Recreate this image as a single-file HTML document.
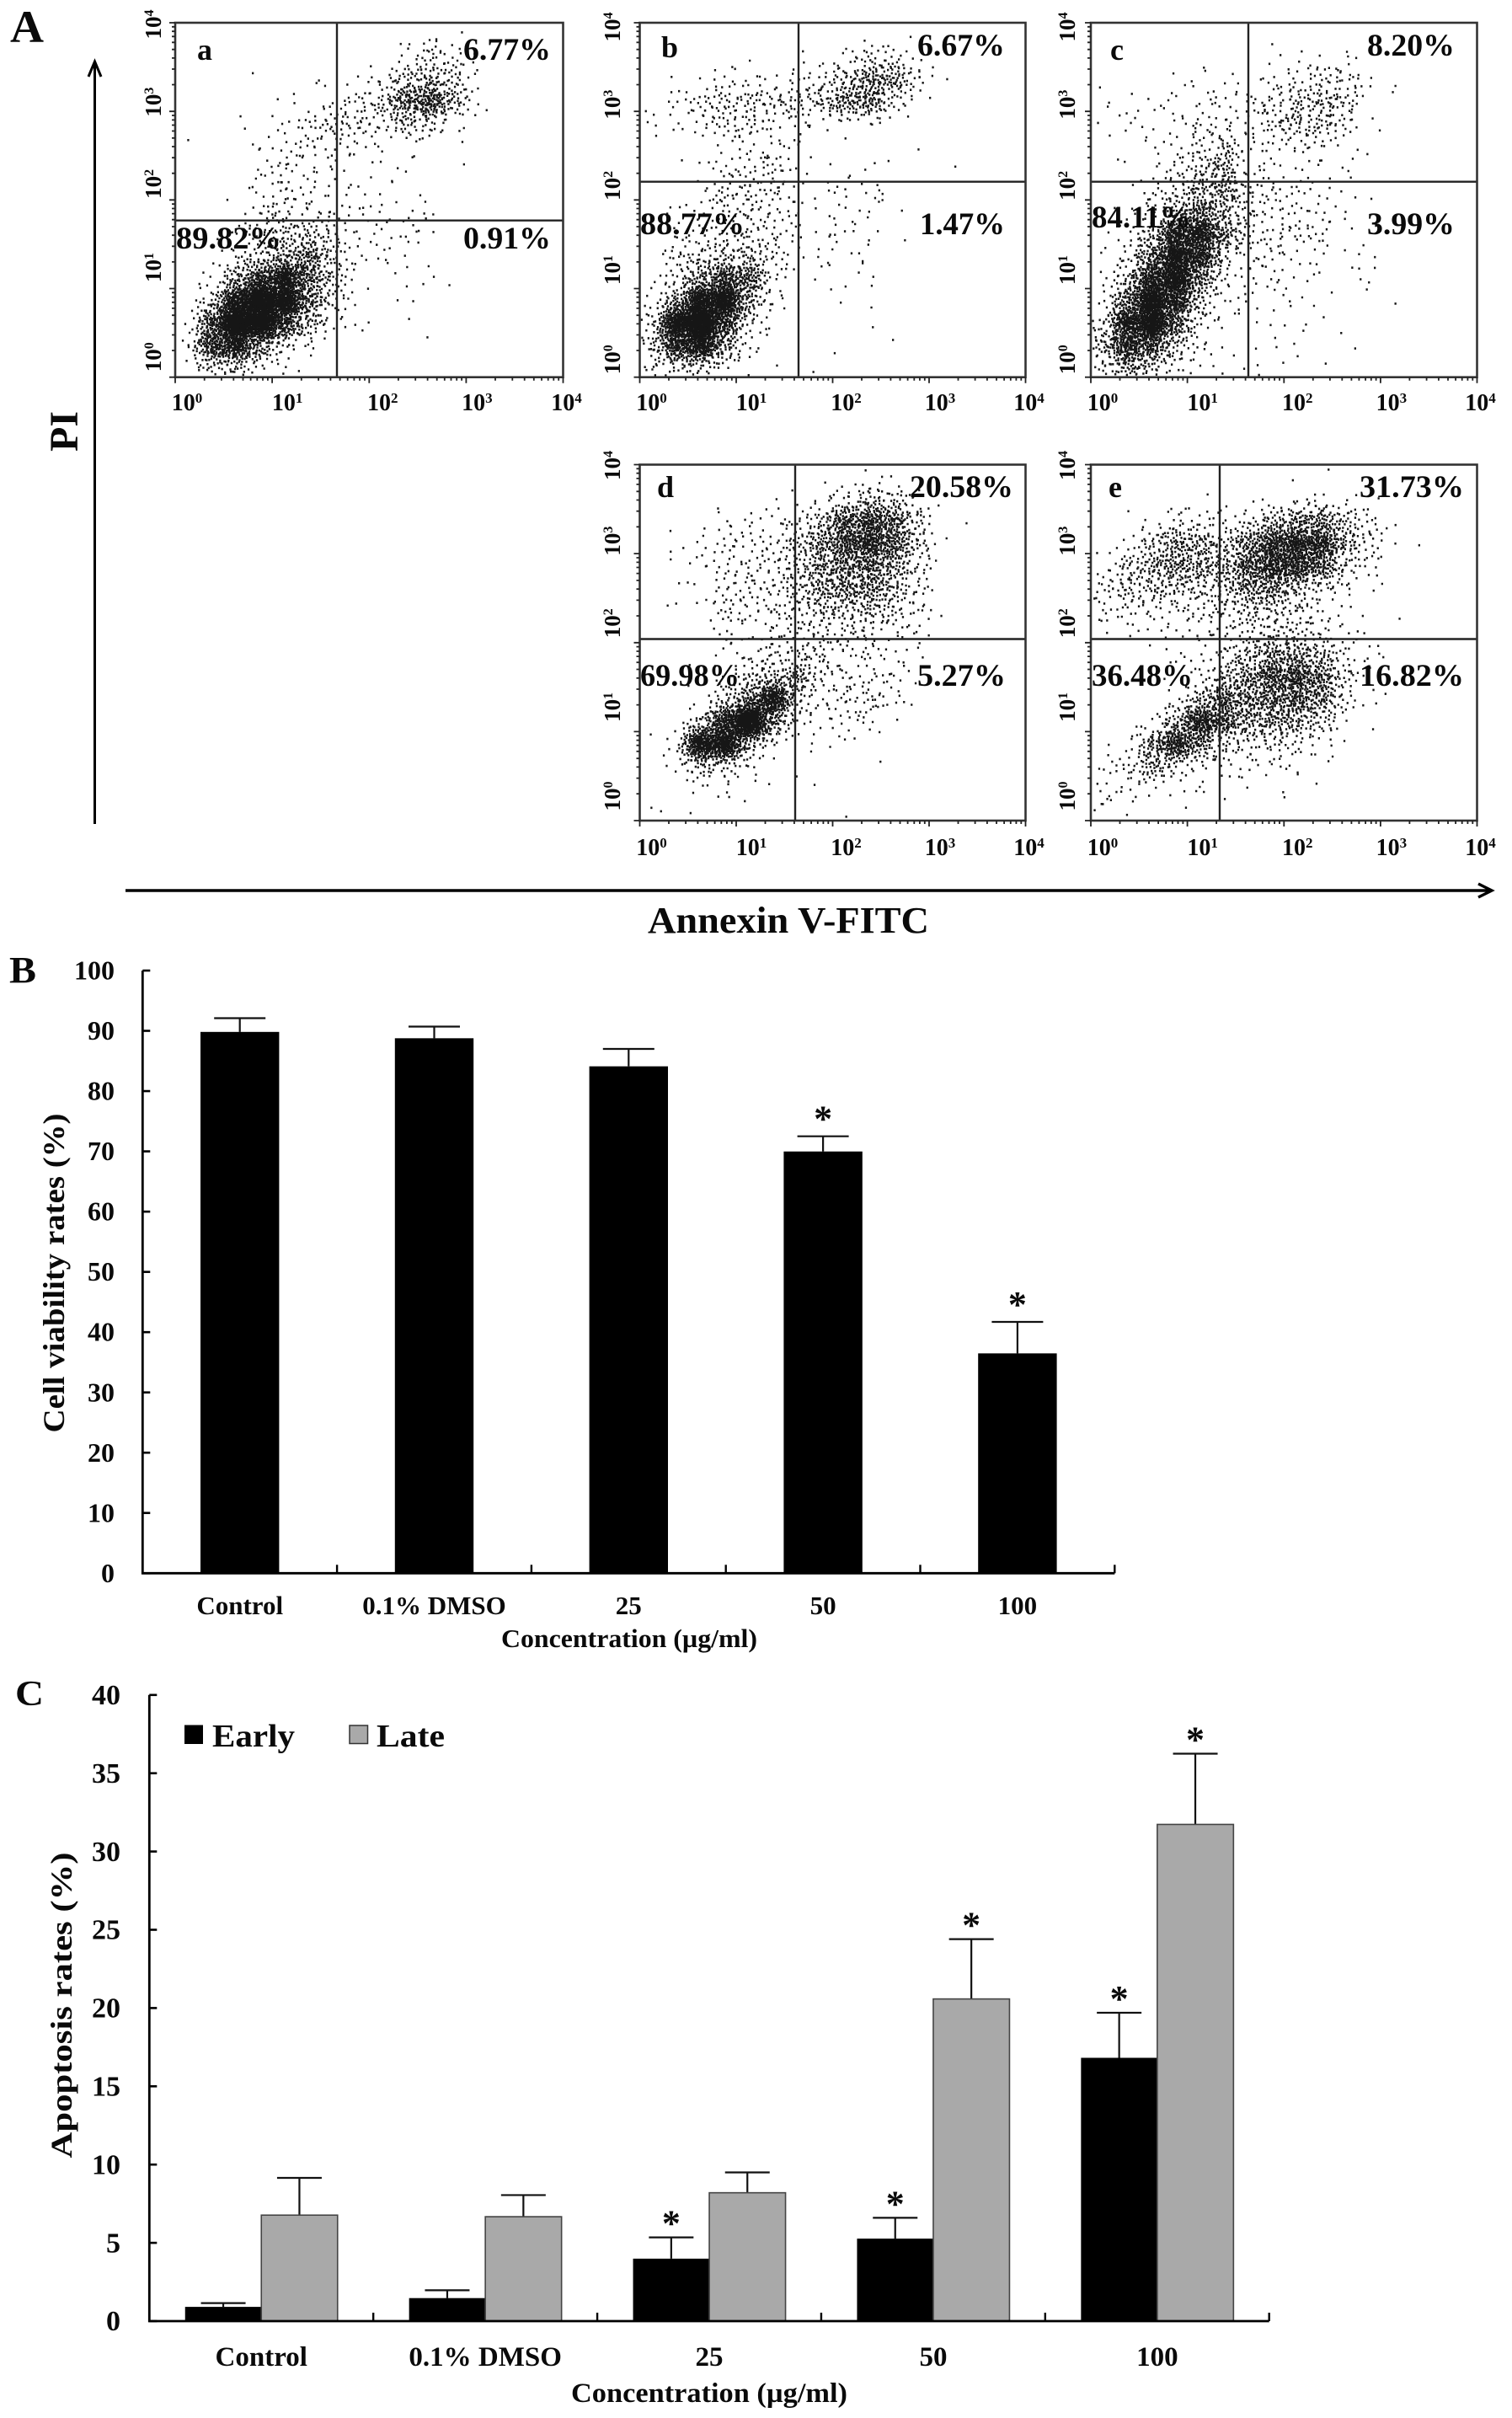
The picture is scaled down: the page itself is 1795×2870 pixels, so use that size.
<!DOCTYPE html>
<html lang="en">
<head>
<meta charset="utf-8">
<title>Flow cytometry apoptosis figure</title>
<style>
html,body{margin:0;padding:0;background:#fff;}
svg{display:block;font-family:"Liberation Serif",serif;font-weight:bold;fill:#000;}
text{fill:#0a0a0a;}
</style>
</head>
<body>
<svg id="figure" xmlns="http://www.w3.org/2000/svg" width="1795" height="2870" viewBox="0 0 1795 2870">
<rect x="0" y="0" width="1795" height="2870" fill="#fff"/>
<g id="scatter-layer"></g>
<g id="bars-b"></g>
<g id="bars-c"></g>

<g>
<text x="12" y="50" font-size="54" textLength="40" lengthAdjust="spacingAndGlyphs">A</text>
<text x="11" y="1166" font-size="44" textLength="32" lengthAdjust="spacingAndGlyphs">B</text>
<text x="18" y="2024" font-size="42" textLength="34" lengthAdjust="spacingAndGlyphs">C</text>

<path d="M112.5 978V74M105 91L112.5 73L120 91" fill="none" stroke="#000" stroke-width="3"/>
<text x="92" y="512" font-size="48" text-anchor="middle" transform="rotate(-90 92 512)">PI</text>
<path d="M149 1057H1769M1755 1049L1771 1057L1755 1065" fill="none" stroke="#000" stroke-width="3.4"/>
<text x="769" y="1107" font-size="44" textLength="334" lengthAdjust="spacingAndGlyphs">Annexin V-FITC</text>

<g font-size="37">
<text x="234" y="71" font-size="36">a</text>
<text x="550" y="71" textLength="104" lengthAdjust="spacingAndGlyphs">6.77%</text>
<text x="209" y="295" textLength="125" lengthAdjust="spacingAndGlyphs">89.82%</text>
<text x="550" y="295" textLength="104" lengthAdjust="spacingAndGlyphs">0.91%</text>
</g>
<g font-size="37">
<text x="785" y="68" font-size="36">b</text>
<text x="1089" y="66" textLength="104" lengthAdjust="spacingAndGlyphs">6.67%</text>
<text x="760" y="278" textLength="124" lengthAdjust="spacingAndGlyphs">88.77%</text>
<text x="1092" y="278" textLength="101" lengthAdjust="spacingAndGlyphs">1.47%</text>
</g>
<g font-size="37">
<text x="1318" y="71" font-size="36">c</text>
<text x="1623" y="66" textLength="104" lengthAdjust="spacingAndGlyphs">8.20%</text>
<text x="1296" y="270" textLength="118" lengthAdjust="spacingAndGlyphs">84.11%</text>
<text x="1623" y="278" textLength="104" lengthAdjust="spacingAndGlyphs">3.99%</text>
</g>
<g font-size="37">
<text x="780" y="590" font-size="36">d</text>
<text x="1080" y="590" textLength="123" lengthAdjust="spacingAndGlyphs">20.58%</text>
<text x="760" y="814" textLength="118" lengthAdjust="spacingAndGlyphs">69.98%</text>
<text x="1089" y="814" textLength="105" lengthAdjust="spacingAndGlyphs">5.27%</text>
</g>
<g font-size="37">
<text x="1316" y="590" font-size="36">e</text>
<text x="1614" y="590" textLength="124" lengthAdjust="spacingAndGlyphs">31.73%</text>
<text x="1296" y="814" textLength="120" lengthAdjust="spacingAndGlyphs">36.48%</text>
<text x="1614" y="814" textLength="124" lengthAdjust="spacingAndGlyphs">16.82%</text>
</g>

<text x="76" y="1511" font-size="36" text-anchor="middle" textLength="379" lengthAdjust="spacingAndGlyphs" transform="rotate(-90 76 1511)">Cell viability rates (%)</text>
<text x="595" y="1955" font-size="31" textLength="304" lengthAdjust="spacingAndGlyphs">Concentration (µg/ml)</text>

<text x="85" y="2380" font-size="36" text-anchor="middle" textLength="363" lengthAdjust="spacingAndGlyphs" transform="rotate(-90 85 2380)">Apoptosis rates (%)</text>
<text x="678" y="2851" font-size="33" textLength="328" lengthAdjust="spacingAndGlyphs">Concentration (µg/ml)</text>

<g>
<rect x="219" y="2047.5" width="22" height="22.5" fill="#000"/>
<text x="252" y="2073" font-size="38" textLength="98" lengthAdjust="spacingAndGlyphs">Early</text>
<rect x="415" y="2048" width="21.5" height="21.5" fill="#a9a9a9" stroke="#333" stroke-width="1.5"/>
<text x="447" y="2073" font-size="38" textLength="81" lengthAdjust="spacingAndGlyphs">Late</text>
</g>
</g>
</svg>

<script>
// ---- Panel A: cell counts per 0.25-decade grid cell.
// Each array is rows from the top of the plot (PI 10^4) to the bottom (PI 10^0);
// each row runs left to right (Annexin 10^0 to 10^4). Missing trailing values are zero.
const densityA = [
 [0,0,0,0,0,0,0,0,0,2,1,1],
 [0,0,0,0,0,0,0,0,0,5,20,12,2],
 [0,0,1,0,0,1,0,2,8,30,45,25],
 [0,0,1,0,2,0,6,12,25,90,130,40,1],
 [0,0,0,0,4,15,20,20,12,30,20,3],
 [1,0,0,5,8,8,10,8,1,1,0,1],
 [0,0,0,4,12,6,6,0,3,3,1,1],
 [0,0,0,5,12,8,2,5,2],
 [0,0,1,10,16,8,8,5,4,5,3],
 [0,0,8,25,30,25,22,3,5,8,2],
 [0,1,10,25,45,90,18,5,4,2],
 [1,2,45,140,260,90,22,4,1,2,4],
 [0,20,240,480,340,80,14,1,1,1],
 [0,110,520,440,140,35,6,3,1,1,1],
 [4,150,220,60,12,5],
 [5,20,28,8,4,1]
];
const densityB = [
 [0,0,0,0,0,0,0,0,0,1],
 [0,0,0,0,0,0,0,2,6,14,14,4],
 [0,1,1,6,6,4,8,12,28,70,60,12,1],
 [1,5,18,24,22,22,24,32,70,80,15,2],
 [5,5,8,15,18,10,5,3,2,2],
 [0,0,0,5,8,6,4,0,0,0,0,1],
 [0,0,2,8,10,18,3,0,2,2,1,0,1],
 [0,0,4,15,16,14,4,3,6,5,1],
 [0,3,8,14,14,12,5,3,3,3,2],
 [0,3,10,16,14,12,6,3,5,3,1],
 [0,18,22,28,30,18,2,5,3,2],
 [2,15,50,140,100,6,2,3,1,2],
 [3,50,300,340,40,6,0,0,1,2],
 [12,300,520,140,15,2,0,0,0,1],
 [25,170,260,50,5,0,0,0,1,0,1],
 [12,20,18,6,3,2,0,1]
];
const densityC = [
 [],
 [0,0,0,0,0,0,0,1,3,3,2],
 [0,0,0,1,3,4,0,6,10,18,16,5],
 [2,3,3,4,7,6,10,14,28,35,22,1,1],
 [2,5,4,5,10,9,5,22,30,35,10,1],
 [0,1,3,4,18,20,8,8,8,6,4,2],
 [0,1,2,12,25,50,6,4,3,1,3],
 [0,0,8,18,40,60,14,12,8,5,3,1],
 [0,3,18,40,90,40,14,8,8,6,4],
 [0,6,35,190,230,70,14,12,12,10,2,1],
 [1,12,80,280,180,18,8,8,5,3,1,2],
 [2,30,180,320,70,10,8,6,4,2,0,4],
 [5,80,360,180,30,4,4,2,4,0,0,1,1],
 [15,200,340,90,12,3,2,2,2,2],
 [40,180,120,30,6,0,0,2,2,1,1],
 [15,60,25,8,3,4,3,2,1,1]
];
const densityD = [
 [0,0,0,0,0,0,0,0,1,2],
 [0,0,0,0,0,2,1,3,12,30,25,5,1],
 [0,0,0,6,5,4,12,35,110,140,100,22,1],
 [0,2,5,10,10,10,30,60,130,170,110,25,2],
 [0,2,3,12,12,10,25,60,80,90,50,14],
 [0,2,1,12,14,14,24,60,70,75,40,14],
 [0,1,1,14,12,12,18,30,30,35,25,8],
 [0,0,0,5,5,8,14,14,15,14,6,6],
 [0,0,1,4,8,16,16,22,8,8,6,3],
 [0,0,0,8,22,35,60,14,10,8,8,1],
 [0,0,1,25,70,260,20,8,12,18,8],
 [1,0,18,180,460,60,8,6,8,8,1],
 [0,4,260,320,30,6,1,2,1,1],
 [0,5,30,14,6,1,1],
 [1,0,3,3,2,1,1],
 [3,0,2,1,0,0,0,0,1]
];
const densityE = [
 [0,0,0,0,0,0,0,0,0,0,1],
 [0,0,0,0,1,0,0,0,3,5,3],
 [0,1,2,12,10,8,14,35,65,70,35,10,2],
 [0,6,22,60,50,30,70,160,190,170,50,14,2],
 [3,22,50,70,55,45,110,170,170,100,22,8],
 [14,30,28,30,25,30,70,70,35,14,6,2],
 [8,14,10,8,14,16,28,28,18,7,3],
 [1,3,3,4,8,8,16,20,20,12,6,1,1],
 [0,0,0,2,6,14,32,70,60,35,14,5],
 [0,0,1,3,8,30,70,120,140,90,16,3],
 [0,0,0,6,30,100,70,90,100,70,14,2],
 [0,0,3,40,190,110,50,60,50,25,5],
 [0,3,50,180,70,14,18,18,12,6],
 [5,14,50,12,6,8,6,5,5,1],
 [8,6,4,3,3,1,1,2,1],
 [4,1,1,1]
];

// ---- Panels B and C values
const viabilityCategories = ['Control', '0.1% DMSO', '25', '50', '100'];
const viabilityValues = [89.82, 88.77, 84.11, 69.98, 36.48];
const viabilityErrorTops = [92.1, 90.7, 87, 72.5, 41.7];
const viabilityStars = [false, false, false, true, true];
const viabilityTicks = [0, 10, 20, 30, 40, 50, 60, 70, 80, 90, 100];

const apoptosisCategories = ['Control', '0.1% DMSO', '25', '50', '100'];
const earlyValues = [0.91, 1.47, 3.99, 5.27, 16.82];
const earlyErrorTops = [1.15, 1.97, 5.35, 6.6, 19.7];
const earlyStars = [false, false, true, true, true];
const lateValues = [6.77, 6.67, 8.20, 20.58, 31.73];
const lateErrorTops = [9.15, 8.05, 9.5, 24.4, 36.25];
const lateStars = [false, false, false, true, true];
const apoptosisTicks = [0, 5, 10, 15, 20, 25, 30, 35, 40];

const decadeExponents = [0, 1, 2, 3, 4];

const NS = 'http://www.w3.org/2000/svg';
function make(tag, attrs, parent, content) {
  const el = document.createElementNS(NS, tag);
  for (const k in attrs) el.setAttribute(k, attrs[k]);
  if (content !== undefined) el.textContent = content;
  parent.appendChild(el);
  return el;
}

// ---- Flow cytometry panels
const panelLayouts = [
  {id:'a', density:densityA, x:208, y:27, w:460.5, h:420.7, gateX:400, gateY:261.7, yLabelX:191, yNudge:[-24,-25,-19,-11,2], xLabelY:487},
  {id:'b', density:densityB, x:759.5, y:27, w:458, h:420.7, gateX:948, gateY:215.7, yLabelX:736, yNudge:[-21,-22,-17,-8,5], xLabelY:487},
  {id:'c', density:densityC, x:1295, y:27, w:458.5, h:420.7, gateX:1482, gateY:215.7, yLabelX:1276, yNudge:[-21,-22,-17,-8,5], xLabelY:487},
  {id:'d', density:densityD, x:759.5, y:551.5, w:458, h:422.5, gateX:944, gateY:758.5, yLabelX:736, yNudge:[-29,-29,-23,-15,1], xLabelY:1015},
  {id:'e', density:densityE, x:1295, y:551.5, w:458.5, h:422.5, gateX:1448, gateY:758.5, yLabelX:1276, yNudge:[-29,-29,-23,-15,1], xLabelY:1015}
];
const xLabelNudge = [14, 18, 16, 13, 4];

function halton(i, base) {
  let f = 1, r = 0;
  while (i > 0) { f /= base; r += f * (i % base); i = Math.floor(i / base); }
  return r;
}

const scatterLayer = document.getElementById('scatter-layer');
let pointIndex = 1;
panelLayouts.forEach(function (p) {
  const xScale = function (decade) { return p.x + decade / 4 * p.w; };
  const yScale = function (decade) { return p.y + p.h - decade / 4 * p.h; };
  const g = make('g', {}, scatterLayer);
  
  

  const cloud = make('g', {fill:'#161616'}, g);
  
  
  p.density.forEach(function (row, r) {
    row.forEach(function (count, c) {
      if (!count) return;
      let d = '';
      for (let n = 0; n < count; n++) {
        const a = Math.max(halton(pointIndex, 2), 0.002);
        const b = halton(pointIndex, 3);
        pointIndex++;
        const rad = 0.4 * Math.sqrt(-2 * Math.log(a));
        const u = 0.5 + rad * Math.cos(2 * Math.PI * b);
        const v = 0.5 + rad * Math.sin(2 * Math.PI * b);
        const px = xScale((c + u) / 4);
        const py = yScale(4 - (r + v) / 4);
        if (px < p.x + 1 || px > p.x + p.w - 2 || py < p.y + 1 || py > p.y + p.h - 3) continue;
        d += 'M' + px.toFixed(1) + ' ' + py.toFixed(1) + 'h2.3v2.6h-2.3z';
      }
      const cell = make('path', {d:d}, cloud);
      
      
    });
  });

  const vGate = make('line', {x1:p.gateX, x2:p.gateX, y1:p.y, y2:p.y + p.h, stroke:'#222', 'stroke-width':2.4}, g);
  
  
  const hGate = make('line', {x1:p.x, x2:p.x + p.w, y1:p.gateY, y2:p.gateY, stroke:'#222', 'stroke-width':2.4}, g);
  
  

  const frame = make('rect', {x:p.x, y:p.y, width:p.w, height:p.h, fill:'none', stroke:'#333', 'stroke-width':2.6}, g);
  
  

  let td = '';
  decadeExponents.forEach(function (e) {
    for (let m = 1; m <= 9; m++) {
      if (e === 4 && m > 1) break;
      const at = e + Math.log10(m);
      const len = m === 1 ? 7 : 4;
      td += 'M' + xScale(at).toFixed(1) + ' ' + (p.y + p.h) + 'v' + len;
      td += 'M' + p.x + ' ' + yScale(at).toFixed(1) + 'h-' + len;
    }
  });
  const ticks = make('path', {d:td, stroke:'#222', 'stroke-width':1.8, fill:'none'}, g);
  
  

  decadeExponents.forEach(function (e) {
    const xl = make('text', {x:xScale(e) + xLabelNudge[e], y:p.xLabelY, 'font-size':28, 'text-anchor':'middle'}, g);
    
    
    xl.appendChild(document.createTextNode('10'));
    make('tspan', {dy:-9, 'font-size':17}, xl, String(e));

    const ly = yScale(e) + p.yNudge[e];
    const yl = make('text', {x:p.yLabelX, y:ly, 'font-size':27, 'text-anchor':'middle', transform:'rotate(-90 ' + p.yLabelX + ' ' + ly + ')'}, g);
    
    
    yl.appendChild(document.createTextNode('10'));
    make('tspan', {dy:-9, 'font-size':16}, yl, String(e));
  });
});

// ---- Shared bar-chart pieces
function drawErrorBar(parent, cx, yBar, yTop, capWidth, name) {
  const e = make('path', {d:'M' + cx + ' ' + yBar + 'V' + yTop + 'M' + (cx - capWidth / 2) + ' ' + yTop + 'H' + (cx + capWidth / 2), fill:'none', stroke:'#111', 'stroke-width':2.2}, parent);
  
  
}
function drawStar(parent, cx, baseline, name) {
  const s = make('text', {x:cx, y:baseline, 'font-size':44, 'text-anchor':'middle'}, parent, '*');
  
  
}
function drawAxes(parent, x0, x1, y0, yTop, yScale, ticks, bandCount, labelRight, fontSize, name) {
  const axes = make('path', {d:'M' + x0 + ' ' + yTop + 'V' + y0 + 'H' + x1, fill:'none', stroke:'#000', 'stroke-width':2.8}, parent);
  
  
  ticks.forEach(function (t) {
    const tm = make('line', {x1:x0, x2:x0 + 9, y1:yScale(t), y2:yScale(t), stroke:'#000', 'stroke-width':2.6}, parent);
    
    
    const tl = make('text', {x:labelRight, y:yScale(t) + fontSize * 0.33, 'font-size':fontSize, 'text-anchor':'end'}, parent, String(t));
    
    
  });
  const band = (x1 - x0) / bandCount;
  for (let i = 1; i <= bandCount; i++) {
    const bx = x0 + i * band;
    const tm = make('line', {x1:bx, x2:bx, y1:y0, y2:y0 - 10, stroke:'#000', 'stroke-width':2.4}, parent);
    
    
  }
}

// ---- Panel B: viability bars
const barsB = document.getElementById('bars-b');
const yB = function (v) { return 1867.3 - v * 7.153; };
const bandB = function (i) { return 169.3 + (i + 0.5) * 230.8; };
viabilityValues.forEach(function (v, i) {
  const cx = bandB(i);
  drawErrorBar(barsB, cx, yB(v), yB(viabilityErrorTops[i]), 61, 'viability-error-bar');
  const bar = make('rect', {x:cx - 46.7, y:yB(v), width:93.4, height:yB(0) - yB(v), fill:'#000'}, barsB);
  
  
  if (viabilityStars[i]) drawStar(barsB, cx, yB(viabilityErrorTops[i]) - 6, 'viability-significance-star');
  const lab = make('text', {x:cx, y:1916, 'font-size':31, 'text-anchor':'middle'}, barsB, viabilityCategories[i]);
  
  
});
drawAxes(barsB, 169.3, 1323.3, 1867.3, 1152, yB, viabilityTicks, 5, 136, 32, 'viability');

// ---- Panel C: apoptosis bars
const barsC = document.getElementById('bars-c');
const yC = function (v) { return 2755 - v * 18.58; };
const bandC = function (i) { return 177.3 + (i + 0.5) * 265.9; };
apoptosisCategories.forEach(function (cat, i) {
  const cx = bandC(i);
  const ex = cx - 45.2;
  const lx = cx + 45.2;
  drawErrorBar(barsC, ex, yC(earlyValues[i]), yC(earlyErrorTops[i]), 53, 'early-error-bar');
  drawErrorBar(barsC, lx, yC(lateValues[i]), yC(lateErrorTops[i]), 53, 'late-error-bar');
  const early = make('rect', {x:cx - 90.5, y:yC(earlyValues[i]), width:90.5, height:yC(0) - yC(earlyValues[i]), fill:'#000'}, barsC);
  
  
  const late = make('rect', {x:cx, y:yC(lateValues[i]), width:90.5, height:yC(0) - yC(lateValues[i]), fill:'#a9a9a9', stroke:'#444', 'stroke-width':1.6}, barsC);
  
  
  if (earlyStars[i]) drawStar(barsC, ex, yC(earlyErrorTops[i]) - 2, 'early-significance-star');
  if (lateStars[i]) drawStar(barsC, lx, yC(lateErrorTops[i]) - 2, 'late-significance-star');
  const lab = make('text', {x:cx, y:2808, 'font-size':33, 'text-anchor':'middle'}, barsC, cat);
  
  
});
drawAxes(barsC, 177.3, 1506.7, 2755, 2011.7, yC, apoptosisTicks, 5, 143, 34, 'apoptosis');
</script>
</body>
</html>
